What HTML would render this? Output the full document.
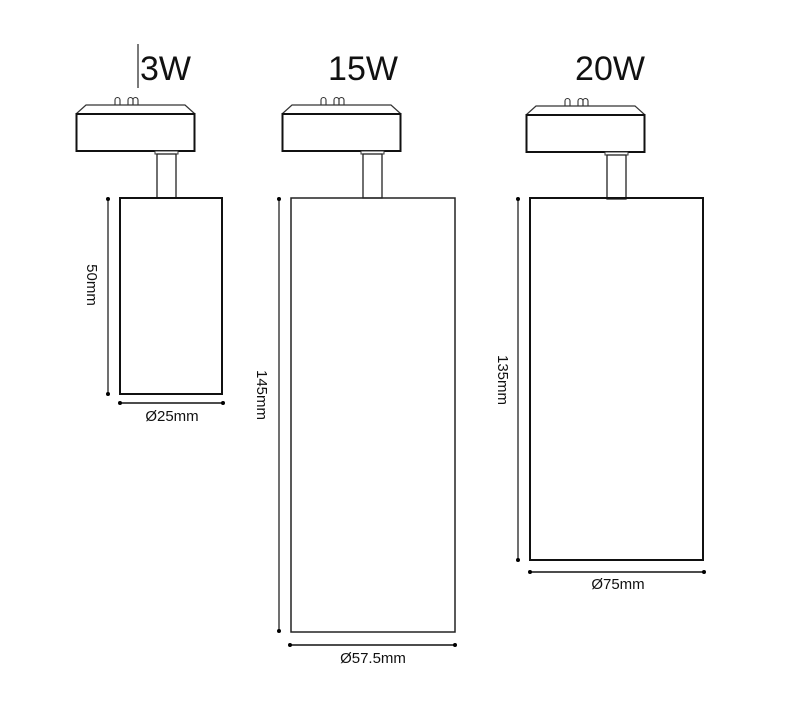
<!DOCTYPE html>
<html><head><meta charset="utf-8"><style>
html,body{margin:0;padding:0;background:#fff;}
svg{display:block;}
text{font-family:"Liberation Sans",Arial,sans-serif;fill:#111;}
</style></head><body>
<svg width="800" height="711" viewBox="0 0 800 711" xmlns="http://www.w3.org/2000/svg">
<defs>
<g id="head">
  <!-- trapezoid top -->
  <polyline points="0,38 10,29 109,29 119,38" fill="none" stroke="#333" stroke-width="1.2"/>
  <!-- pins -->
  <path d="M39,29 v-5 a2.5,2.5 0 0 1 5,0 v5" fill="none" stroke="#333" stroke-width="1.1"/>
  <path d="M52,29 v-5 a2.5,2.5 0 0 1 5,0 v5" fill="none" stroke="#333" stroke-width="1.1"/>
  <path d="M57,29 v-5 a2.5,2.5 0 0 1 5,0 v5" fill="none" stroke="#333" stroke-width="1.1"/>
  <rect x="0.5" y="38" width="118" height="37" fill="#fff" stroke="#111" stroke-width="2"/>
  <!-- flange -->
  <rect x="79" y="75" width="23" height="3" fill="#fff" stroke="#333" stroke-width="1"/>
  <!-- stem -->
  <rect x="81" y="78" width="19" height="44" fill="#fff" stroke="#222" stroke-width="1.3"/>
</g>
</defs>

<!-- 3W -->
<line x1="138" y1="44" x2="138" y2="88" stroke="#222" stroke-width="1.2"/>
<text x="140" y="80" font-size="34">3W</text>
<use href="#head" x="76" y="76"/>
<rect x="120" y="198" width="102" height="196" fill="none" stroke="#111" stroke-width="2"/>
<line x1="108" y1="199" x2="108" y2="394" stroke="#111" stroke-width="1.2"/>
<circle cx="108" cy="199" r="2"/><circle cx="108" cy="394" r="2"/>
<line x1="120" y1="403" x2="223" y2="403" stroke="#111" stroke-width="1.5"/>
<circle cx="120" cy="403" r="2"/><circle cx="223" cy="403" r="2"/>
<text x="172" y="421" font-size="15" text-anchor="middle">Ø25mm</text>
<text transform="translate(87,285) rotate(90)" font-size="15" text-anchor="middle">50mm</text>

<!-- 15W -->
<text x="363" y="80" font-size="34" text-anchor="middle">15W</text>
<use href="#head" x="282" y="76"/>
<rect x="291" y="198" width="164" height="434" fill="none" stroke="#222" stroke-width="1.5"/>
<line x1="279" y1="199" x2="279" y2="631" stroke="#111" stroke-width="1.2"/>
<circle cx="279" cy="199" r="2"/><circle cx="279" cy="631" r="2"/>
<line x1="290" y1="645" x2="455" y2="645" stroke="#111" stroke-width="1.5"/>
<circle cx="290" cy="645" r="2"/><circle cx="455" cy="645" r="2"/>
<text x="373" y="663" font-size="15" text-anchor="middle">Ø57.5mm</text>
<text transform="translate(257,395) rotate(90)" font-size="15" text-anchor="middle">145mm</text>

<!-- 20W -->
<text x="610" y="80" font-size="34" text-anchor="middle">20W</text>
<use href="#head" x="526" y="77"/>
<rect x="530" y="198" width="173" height="362" fill="none" stroke="#111" stroke-width="2"/>
<line x1="518" y1="199" x2="518" y2="560" stroke="#111" stroke-width="1.2"/>
<circle cx="518" cy="199" r="2"/><circle cx="518" cy="560" r="2"/>
<line x1="530" y1="572" x2="704" y2="572" stroke="#111" stroke-width="1.5"/>
<circle cx="530" cy="572" r="2"/><circle cx="704" cy="572" r="2"/>
<text x="618" y="589" font-size="15" text-anchor="middle">Ø75mm</text>
<text transform="translate(498,380) rotate(90)" font-size="15" text-anchor="middle">135mm</text>
</svg>
</body></html>
